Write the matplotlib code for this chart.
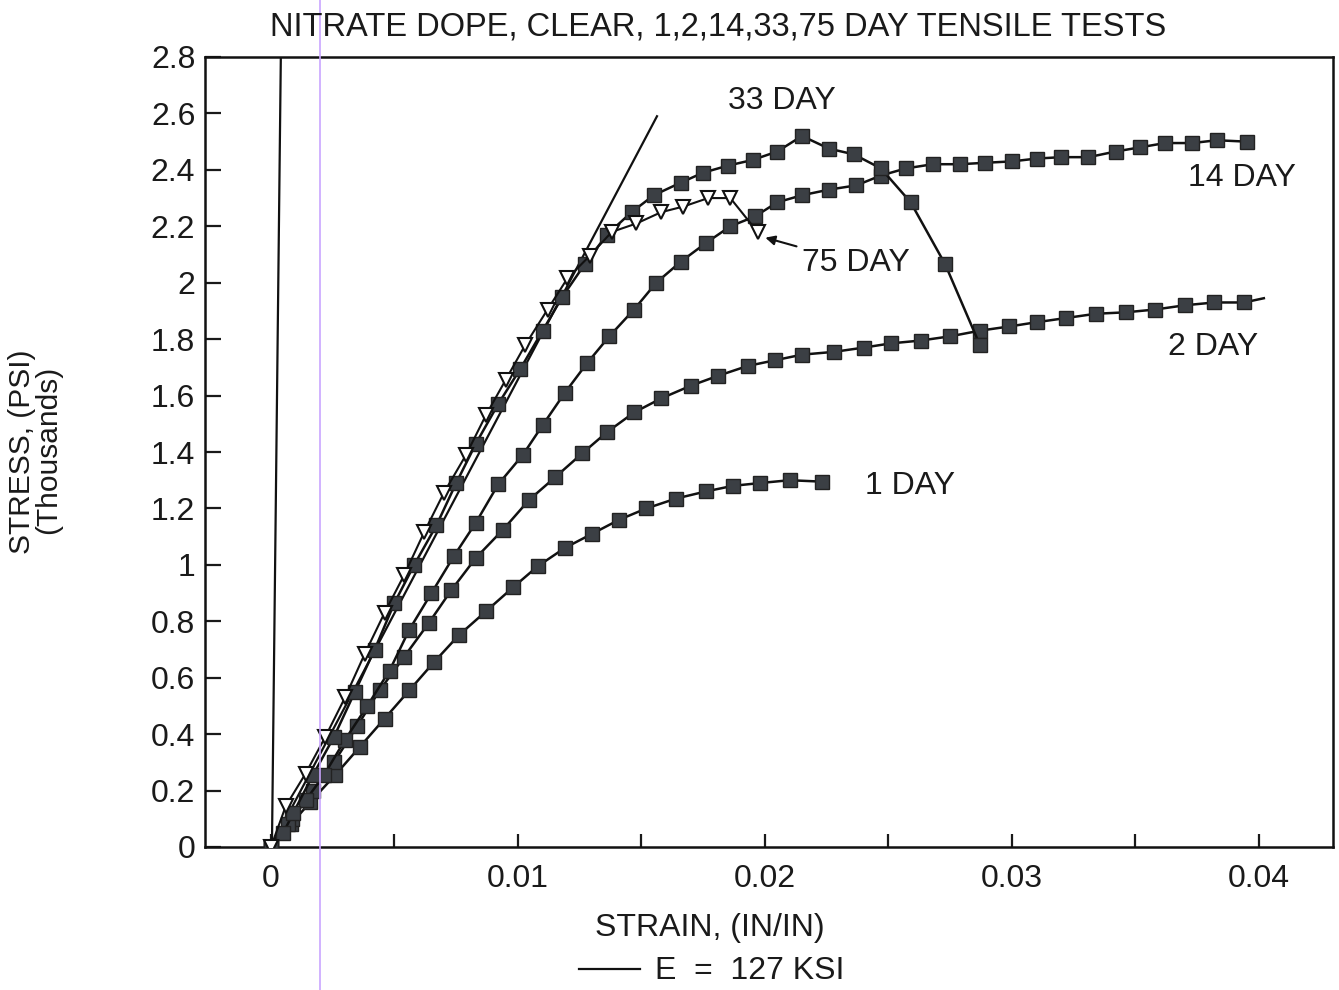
import numpy as np
import matplotlib
matplotlib.use("Agg")
import matplotlib.pyplot as plt
from matplotlib.lines import Line2D
from matplotlib.ticker import FixedLocator, FuncFormatter

plt.rcParams['font.family'] = ['Liberation Sans', 'DejaVu Sans']

# strain (in/in) vs stress (ksi) for each test age
strain_1 = [0, 0.0008, 0.0016, 0.0026, 0.0036, 0.0046, 0.0056, 0.0066, 0.0076, 0.0087, 0.0098,
            0.0108, 0.0119, 0.0130, 0.0141, 0.0152, 0.0164, 0.0176, 0.0187, 0.0198, 0.0210, 0.0223]
stress_1 = [0, 0.08, 0.16, 0.255, 0.355, 0.455, 0.555, 0.655, 0.75, 0.835, 0.92,
            0.995, 1.06, 1.11, 1.16, 1.2, 1.235, 1.26, 1.28, 1.29, 1.3, 1.295]

strain_2 = [0, 0.00085, 0.0017, 0.00255, 0.0035, 0.0044, 0.0054, 0.0064, 0.0073, 0.0083,
            0.0094, 0.01045, 0.0115, 0.0126, 0.0136, 0.0147, 0.0158, 0.017, 0.0181, 0.0193,
            0.0204, 0.0215, 0.0228, 0.024, 0.0251, 0.0263, 0.0275, 0.0287, 0.0299, 0.031,
            0.0322, 0.0334, 0.0346, 0.0358, 0.037, 0.0382, 0.0394, 0.0402]
stress_2 = [0, 0.1, 0.2, 0.3, 0.43, 0.555, 0.675, 0.795, 0.91, 1.025,
            1.125, 1.23, 1.31, 1.395, 1.47, 1.54, 1.59, 1.635, 1.67, 1.705,
            1.725, 1.745, 1.755, 1.77, 1.785, 1.795, 1.81, 1.83, 1.845, 1.86,
            1.875, 1.89, 1.895, 1.905, 1.92, 1.93, 1.93, 1.945]

strain_14 = [0, 0.0007, 0.0014, 0.00215, 0.003, 0.0039, 0.0048, 0.0056, 0.0065, 0.0074,
             0.0083, 0.0092, 0.0102, 0.011, 0.0119, 0.0128, 0.0137, 0.0147, 0.0156, 0.0166,
             0.0176, 0.0186, 0.0196, 0.0205, 0.0215, 0.0226, 0.0237, 0.0247, 0.0257, 0.0268,
             0.0279, 0.0289, 0.03, 0.031, 0.032, 0.0331, 0.0342, 0.0352, 0.0362, 0.0373,
             0.0383, 0.0395]
stress_14 = [0, 0.08, 0.165, 0.255, 0.38, 0.5, 0.625, 0.77, 0.9, 1.03,
             1.15, 1.285, 1.39, 1.495, 1.61, 1.715, 1.81, 1.905, 2.0, 2.075,
             2.14, 2.2, 2.235, 2.285, 2.31, 2.33, 2.345, 2.38, 2.405, 2.42,
             2.42, 2.425, 2.43, 2.44, 2.445, 2.445, 2.465, 2.48, 2.495, 2.495,
             2.505, 2.5]

strain_33 = [0, 0.0005, 0.0009, 0.0017, 0.00255, 0.0034, 0.0042, 0.005, 0.0058, 0.0067,
             0.0075, 0.0083, 0.0092, 0.0101, 0.011, 0.0118, 0.0127, 0.0136, 0.0146, 0.0155,
             0.0166, 0.0175, 0.0185, 0.0195, 0.0205, 0.0215, 0.0226, 0.0236, 0.0247, 0.0259,
             0.0273, 0.0287]
stress_33 = [0, 0.05, 0.12, 0.255, 0.39, 0.55, 0.7, 0.865, 1.0, 1.14,
             1.29, 1.43, 1.57, 1.695, 1.83, 1.95, 2.065, 2.17, 2.25, 2.31,
             2.355, 2.39, 2.415, 2.435, 2.465, 2.52, 2.475, 2.455, 2.405, 2.285,
             2.065, 1.78]

strain_75 = [0, 0.0006, 0.0014, 0.0022, 0.003, 0.0038, 0.0046, 0.0054, 0.0062, 0.007,
             0.0079, 0.0087, 0.0095, 0.0103, 0.0112, 0.012, 0.0129, 0.0138, 0.0148, 0.0158,
             0.0167, 0.0177, 0.0186, 0.0197]
stress_75 = [0, 0.145, 0.26, 0.39, 0.53, 0.685, 0.83, 0.965, 1.115, 1.255,
             1.39, 1.53, 1.655, 1.78, 1.905, 2.015, 2.095, 2.18, 2.21, 2.25,
             2.27, 2.3, 2.3, 2.18]

# modulus line and the near-vertical reference line
e_line_x = [0, 0.01563]
e_line_y = [0, 2.59]
vert_x = [0.00004, 0.0004]
vert_y = [0, 2.8]

y_ticks = [0, 0.2, 0.4, 0.6, 0.8, 1.0, 1.2, 1.4, 1.6, 1.8, 2.0, 2.2, 2.4, 2.6, 2.8]
x_ticks = [0, 0.01, 0.02, 0.03, 0.04]
x_minor = [0.005, 0.015, 0.025, 0.035]

FS = 23
INK = '#1a1a1a'
SQ = dict(marker='s', markersize=10.5, markerfacecolor='#3b3f44',
          markeredgecolor='#222222', markeredgewidth=1.0)

fig = plt.figure(figsize=(13.39, 9.90), dpi=100)
ax = fig.add_axes([205 / 1339, 143 / 990, (1333 - 205) / 1339, (847 - 57) / 990])

ax.plot(vert_x, vert_y, color='#111111', lw=1.6, zorder=2)
ax.plot(e_line_x, e_line_y, color='#111111', lw=1.6, zorder=2)

ax.plot(strain_1, stress_1, color='#111111', lw=1.8, zorder=3, **SQ)
ax.plot(strain_2, stress_2, color='#111111', lw=1.8, zorder=3,
        markevery=list(range(len(strain_2) - 1)), **SQ)
ax.plot(strain_14, stress_14, color='#111111', lw=1.8, zorder=3, **SQ)
ax.plot(strain_33, stress_33, color='#111111', lw=1.8, zorder=4, **SQ)
ax.plot(strain_75, stress_75, color='#111111', lw=1.5, zorder=5, marker='v',
        markersize=9.5, markerfacecolor='white', markeredgecolor='#111111',
        markeredgewidth=1.5)

ax.set_xlim(-0.00267, 0.043)
ax.set_ylim(0, 2.8)

ax.yaxis.set_major_locator(FixedLocator(y_ticks))
ax.yaxis.set_major_formatter(FuncFormatter(lambda v, p: f"{v:g}"))
ax.xaxis.set_major_locator(FixedLocator(x_ticks))
ax.xaxis.set_minor_locator(FixedLocator(x_minor))
ax.xaxis.set_major_formatter(FuncFormatter(lambda v, p: f"{v:g}"))

ax.tick_params(axis='y', direction='in', length=11.5, width=1.6, pad=7,
               labelsize=FS, colors=INK)
ax.tick_params(axis='x', which='both', direction='in', length=9.5, width=1.6,
               pad=12, labelsize=FS, colors=INK)
for s in ax.spines.values():
    s.set_linewidth(1.8)
    s.set_color('#111111')

# curve labels
ax.text(0.02069, 2.645, "33 DAY", fontsize=FS, ha='center', va='center', color=INK)
ax.text(0.0393, 2.372, "14 DAY", fontsize=FS, ha='center', va='center', color=INK)
ax.text(0.03814, 1.773, "2 DAY", fontsize=FS, ha='center', va='center', color=INK)
ax.text(0.02587, 1.28, "1 DAY", fontsize=FS, ha='center', va='center', color=INK)
ax.annotate("75 DAY", xy=(0.0198, 2.165), xytext=(0.0215, 2.07),
            fontsize=FS, ha='left', va='center', color=INK,
            arrowprops=dict(arrowstyle='-|>', color='#111111', lw=1.5,
                            mutation_scale=14, shrinkA=2, shrinkB=4))

fig.text(718 / 1339, 1 - 27 / 990, "NITRATE DOPE, CLEAR, 1,2,14,33,75 DAY TENSILE TESTS",
         fontsize=23.5, ha='center', va='center', color=INK)
fig.text(710 / 1339, 1 - 928 / 990, "STRAIN, (IN/IN)",
         fontsize=FS, ha='center', va='center', color=INK)
fig.add_artist(Line2D([579 / 1339, 640 / 1339], [1 - 969 / 990, 1 - 969 / 990],
                      color='#111111', lw=1.6))
fig.text(655 / 1339, 1 - 971 / 990, "E  =  127 KSI",
         fontsize=FS, ha='left', va='center', color=INK)
fig.text(22 / 1339, 1 - 452 / 990, "STRESS, (PSI)", rotation=90,
         fontsize=21.5, ha='center', va='center', color=INK)
fig.text(48 / 1339, 1 - 450 / 990, "(Thousands)", rotation=90,
         fontsize=21.5, ha='center', va='center', color=INK)

# faint violet streak running down the sheet
fig.add_artist(Line2D([320 / 1339, 320 / 1339], [0, 1], color='#c9a6ff', lw=1.2))

fig.savefig("out.png", dpi=100)
